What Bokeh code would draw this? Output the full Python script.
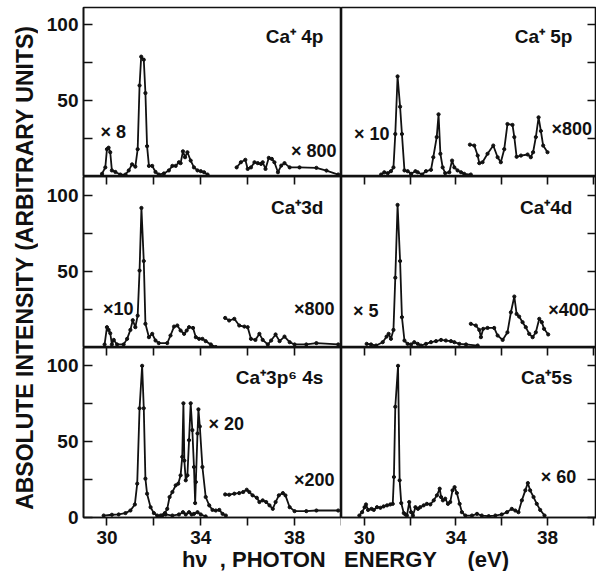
import math
from bokeh.plotting import figure
from bokeh.models import Range1d, FixedTicker, LinearAxis, Label
from bokeh.layouts import row, column
from bokeh.embed import file_html
from bokeh.resources import INLINE

# ---------------- data ----------------
x_ticks = [30, 32, 34, 36, 38, 40]
x_tick_labels = {30: "30", 32: "", 34: "34", 36: "", 38: "38", 40: ""}
y_ticks = [0, 25, 50, 75, 100]
y_tick_labels_top = {0: "", 25: "", 50: "50", 75: "", 100: "100"}
y_tick_labels_bottom = {0: "0", 25: "", 50: "50", 75: "", 100: "100"}

titles = ["Ca\u207a 4p", "Ca\u207a 5p", "Ca\u207a3d", "Ca\u207a4d", "Ca\u207a3p\u2076 4s", "Ca\u207a5s"]

# Ca+ 4p
p4p_a_x = [29.79, 29.93, 30.0, 30.07, 30.14, 30.21, 30.36, 30.57, 30.79, 30.93, 31.07, 31.21, 31.31, 31.39, 31.46,
           31.57, 31.64, 31.71, 31.79, 31.93, 32.07, 32.21, 32.43, 32.64, 32.79, 32.93, 33.07, 33.14, 33.24, 33.33,
           33.43, 33.57, 33.71, 33.86, 34.0, 34.14, 34.29]
p4p_a_y = [1.8, 6, 18, 19, 16, 4, 3, 1.3, 1.3, 4, 8, 6.5, 18, 60, 79, 77, 55, 20, 7, 7, 3, 1.3, 2, 4, 7, 7, 9.4,
           8.8, 16.6, 12.7, 16, 10.5, 6, 4, 3.5, 2.8, 1.3]
p4p_b_x = [35.53, 35.71, 35.9, 36.0, 36.14, 36.29, 36.43, 36.57, 36.64, 36.76, 36.9, 37.03, 37.14, 37.29, 37.43,
           37.57, 37.79, 38.21, 38.93, 39.36, 39.86]
p4p_b_y = [6, 9.4, 11, 5, 6, 9.4, 8.8, 8.3, 9.4, 5, 12.3, 11.6, 9.4, 2.8, 7.2, 8.8, 6, 6, 5.7, 3.9, 1.3]

# Ca+ 5p
p5p_a_x = [30.73, 30.87, 31.02, 31.16, 31.27, 31.35, 31.45, 31.56, 31.64, 31.75, 31.89, 32.04, 32.23, 32.33, 32.52,
           32.69, 32.91, 33.01, 33.16, 33.24, 33.32, 33.42, 33.53, 33.71, 33.83, 33.93, 34.07, 34.22, 34.36, 34.65]
p5p_a_y = [1.3, 2.8, 2.2, 3.5, 6, 28, 66, 46, 28, 4, 3.5, 1.8, 3.5, 2.8, 1.3, 3.5, 4.4, 12.7, 26, 41, 15, 6, 2.2,
           2.8, 10.5, 6, 4, 2.8, 1.8, 1.3]
p5p_b_x = [34.61, 34.8, 34.95, 35.02, 35.16, 35.38, 35.63, 35.82, 35.96, 36.11, 36.25, 36.47, 36.55, 36.65, 36.84,
           37.13, 37.27, 37.37, 37.49, 37.61, 37.71, 37.81, 38.0]
p5p_b_y = [21, 20.4, 13.8, 8.8, 9.4, 15, 20.4, 12.7, 9.4, 18, 34.6, 34, 26, 13, 13.8, 14.5, 12.7, 16, 26, 39, 30,
           20.4, 16]

# Ca+ 3d
p3d_a_x = [29.9, 30.0, 30.07, 30.14, 30.21, 30.29, 30.43, 30.71, 30.86, 31.0, 31.1, 31.21, 31.31, 31.39, 31.47,
           31.57, 31.64, 31.79, 31.93, 32.07, 32.21, 32.57, 32.71, 32.86, 33.0, 33.14, 33.29, 33.4, 33.5, 33.67,
           33.79, 33.93, 34.07, 34.21, 34.43, 34.64]
p3d_a_y = [2, 13.4, 11.6, 9.4, 2, 5, 2, 2, 5.7, 11.6, 18, 13.4, 21, 50.7, 92, 57, 15.6, 6.8, 9, 4.6, 2.9, 2.9, 7.9,
           13.8, 14.5, 11.2, 9, 11.2, 13.4, 12.9, 6.8, 5.7, 5.7, 4.2, 2, 0.3]
p3d_b_x = [35.04, 35.21, 35.43, 35.64, 35.86, 36.0, 36.14, 36.33, 36.5, 36.64, 36.86, 37.0, 37.19, 37.36, 37.57,
           37.79, 38.0, 38.5, 38.93, 39.86]
p3d_b_y = [19.5, 17.8, 18.9, 14.5, 13.8, 13.4, 5.7, 5, 9, 5, 2, 4.6, 8.6, 4.2, 7.2, 3.5, 2, 2, 2.9, 2]

# Ca+ 4d
p4d_a_x = [30.1, 30.29, 30.51, 30.8, 30.97, 31.06, 31.16, 31.27, 31.35, 31.45, 31.56, 31.64, 31.75, 31.89, 32.04,
           32.18, 32.33, 32.47, 32.69, 32.91, 33.13, 33.35, 33.56, 33.78, 33.93, 34.15, 34.44, 34.95]
p4d_a_y = [2.4, 2, 1.3, 3.5, 7.2, 9, 5.7, 11.6, 46, 94, 57, 20, 4.6, 2.4, 2, 3.5, 2.4, 1.3, 2.4, 3.5, 4.2, 5, 4.6,
           4.2, 3.5, 2.4, 2, 1.3]
p4d_b_x = [34.65, 34.87, 35.02, 35.09, 35.19, 35.38, 35.67, 35.82, 36.04, 36.25, 36.4, 36.55, 36.65, 36.76, 36.91,
           37.05, 37.2, 37.35, 37.49, 37.64, 37.75, 37.85, 38.03]
p4d_b_y = [15.6, 14.5, 11.6, 6.8, 12.3, 12.9, 12.9, 7.9, 5, 10, 23.2, 33.6, 22.1, 20.4, 16.7, 13.4, 9, 6.8, 10,
           18.9, 16.7, 12.3, 8.6]

# Ca+ 3p6 4s
p4s_a_x = [29.86, 30.21, 30.5, 30.79, 31.0, 31.19, 31.29, 31.39, 31.5, 31.57, 31.64, 31.71, 31.86, 32.0, 32.14,
           32.36, 32.5, 32.79, 33.07, 33.24, 33.36, 33.5, 33.61, 33.71, 33.86, 34.0, 34.21]
p4s_a_y = [1.3, 1.8, 2, 2.9, 4.6, 8.6, 22.3, 72, 100, 72, 25.6, 15.7, 6.8, 2.9, 1.3, 1.3, 2, 1.3, 2, 3.5, 2, 3.5,
           2, 2.4, 3.5, 2, 0.7]
p4s_b_x = [32.29, 32.47, 32.57, 32.67, 32.79, 32.93, 33.04, 33.14, 33.21, 33.26, 33.3, 33.36, 33.43, 33.5, 33.57,
           33.64, 33.71, 33.76, 33.79, 33.86, 33.9, 33.96, 34.07, 34.21, 34.36, 34.5, 34.64, 34.79, 34.93, 35.07]
p4s_b_y = [1.3, 2.9, 5.7, 13.5, 16.8, 21.2, 22.3, 27.8, 40, 75.3, 37.5, 24.5, 27.8, 51, 75.3, 57.6, 33.3, 9.5,
           23.4, 55.4, 71.3, 60, 33.3, 13.5, 8, 5, 4.6, 5, 2.4, 1.3]
p4s_c_x = [35.04, 35.21, 35.43, 35.64, 35.81, 35.96, 36.07, 36.21, 36.39, 36.5, 36.64, 36.79, 36.93, 37.07, 37.19,
           37.33, 37.5, 37.61, 37.79, 38.0, 38.5, 38.93, 39.86]
p4s_c_y = [15.2, 15, 15.7, 16.1, 16.8, 18.3, 16.8, 14.6, 13, 10.2, 11.3, 10.2, 8, 5.7, 10.2, 14.6, 16.1, 14.6, 6.8,
           4.2, 4.2, 4.6, 4.6]

# Ca+ 5s
p5s_x = [29.78, 29.9, 30.01, 30.07, 30.16, 30.31, 30.41, 30.55, 30.7, 30.84, 30.99, 31.13, 31.24, 31.29, 31.35,
         31.47, 31.54, 31.61, 31.72, 31.79, 31.86, 31.96, 32.04, 32.12, 32.23, 32.34, 32.44, 32.59, 32.73, 32.88,
         33.03, 33.17, 33.29, 33.35, 33.43, 33.53, 33.65, 33.75, 33.85, 33.94, 34.04, 34.16, 34.26, 34.41, 34.7,
         34.92, 35.13, 35.43, 35.72, 36.0, 36.23, 36.44, 36.59, 36.73, 36.88, 37.03, 37.14, 37.24, 37.39, 37.53,
         37.68, 37.87]
p5s_y = [1.3, 3.5, 6.8, 8.6, 5, 5.7, 5, 6.8, 6.4, 7.3, 8, 8.6, 9, 26.7, 73, 100, 24.5, 9.5, 2.9, 2, 1.3, 10.2, 3.5,
         1.3, 6.8, 5.7, 6.8, 8, 9, 8.6, 11.3, 14.6, 19, 13.5, 11.3, 12.4, 9, 10.2, 17.9, 20, 16.1, 9, 3.5, 1.3, 1.3,
         2.4, 1.3, 0.9, 1.3, 2, 3.5, 5.7, 4.6, 3.5, 11.3, 17.9, 22.7, 17.9, 13.5, 9, 5, 1.3]

# scale-factor labels: (text, x, y)
mult_4p = [("\u00d7 8", 29.72, 29.6), ("\u00d7 800", 37.85, 17)]
mult_5p = [("\u00d7 10", 29.55, 28), ("\u00d7800", 38.17, 31)]
mult_3d = [("\u00d710", 29.83, 25.7), ("\u00d7800", 37.97, 25.7)]
mult_4d = [("\u00d7 5", 29.5, 24.3), ("\u00d7400", 38.03, 25)]
mult_4s = [("\u00d7 20", 34.33, 61.6), ("\u00d7200", 37.97, 25)]
mult_5s = [("\u00d7 60", 37.7, 26.8)]

# ---------------- styling / layout ----------------
FONT = "Liberation Sans"
INK = "#111111"
ROW_H = [169, 171, 170]
Y_SCALE = 1.517
COL_W = [258, 255]
X_END = [40.0, 40.14]
TITLE_X = [39.23, 39.09]
LEFT_BORDER = 45
YLAB_W = 38

panels = [
    (0, 0, titles[0], [(p4p_a_x, p4p_a_y), (p4p_b_x, p4p_b_y)], mult_4p),
    (0, 1, titles[1], [(p5p_a_x, p5p_a_y), (p5p_b_x, p5p_b_y)], mult_5p),
    (1, 0, titles[2], [(p3d_a_x, p3d_a_y), (p3d_b_x, p3d_b_y)], mult_3d),
    (1, 1, titles[3], [(p4d_a_x, p4d_a_y), (p4d_b_x, p4d_b_y)], mult_4d),
    (2, 0, titles[4], [(p4s_a_x, p4s_a_y), (p4s_b_x, p4s_b_y), (p4s_c_x, p4s_c_y)], mult_4s),
    (2, 1, titles[5], [(p5s_x, p5s_y)], mult_5s),
]


def style_ticks(ax):
    ax.minor_tick_line_color = None
    ax.major_tick_line_width = 1.6
    ax.major_tick_line_color = INK
    ax.axis_line_color = INK
    ax.axis_line_width = 1.6


def make_panel(r, c, title, series, mults):
    p = figure(frame_width=COL_W[c], frame_height=ROW_H[r],
               x_range=Range1d(29, X_END[c]), y_range=Range1d(0, ROW_H[r] / Y_SCALE),
               output_backend="svg", toolbar_location=None,
               x_axis_location=None, y_axis_location=None,
               min_border=0, min_border_left=(LEFT_BORDER if c == 0 else 0),
               min_border_top=(7 if r == 0 else 0))
    p.outline_line_color = INK
    p.outline_line_width = 1.6
    p.xgrid.visible = False
    p.ygrid.visible = False
    p.background_fill_color = "white"
    p.border_fill_color = "white"

    # y axis, ticks pointing inwards
    ya = LinearAxis(ticker=FixedTicker(ticks=y_ticks))
    ya.major_tick_in = 9
    ya.major_tick_out = 0
    style_ticks(ya)
    if c == 0:
        ya.major_label_overrides = y_tick_labels_bottom if r == 2 else y_tick_labels_top
        ya.major_label_text_font = FONT
        ya.major_label_text_font_style = "bold"
        ya.major_label_text_font_size = "19px"
        ya.major_label_text_color = INK
        ya.major_label_standoff = 5
        p.add_layout(ya, "left")
    else:
        ya.major_label_overrides = {t: "" for t in y_ticks}
        ya.major_label_text_font_size = "1px"
        ya.major_label_standoff = 0
        p.add_layout(ya, "right")

    # inward ticks at the top of the lower panels
    if r > 0:
        ta = LinearAxis(ticker=FixedTicker(ticks=x_ticks))
        ta.major_tick_in = 8
        ta.major_tick_out = 0
        style_ticks(ta)
        ta.major_label_overrides = {t: "" for t in x_ticks}
        ta.major_label_text_font_size = "1px"
        ta.major_label_standoff = 0
        p.add_layout(ta, "above")
    if r == 2:
        ba = LinearAxis(ticker=FixedTicker(ticks=x_ticks))
        ba.major_tick_in = 0
        ba.major_tick_out = 8
        style_ticks(ba)
        ba.major_label_overrides = x_tick_labels
        ba.major_label_text_font = FONT
        ba.major_label_text_font_style = "bold"
        ba.major_label_text_font_size = "19px"
        ba.major_label_text_color = INK
        ba.major_label_standoff = 5
        p.add_layout(ba, "below")

    for xs, ys in series:
        p.line(xs, ys, line_color=INK, line_width=1.8)
        p.scatter(xs, ys, size=3.2, color=INK)

    p.add_layout(Label(x=TITLE_X[c], y=92.5, text=title, text_align="right", text_baseline="alphabetic",
                       text_font=FONT, text_font_style="bold", text_font_size="19px", text_color=INK))
    for txt, lx, ly in mults:
        p.add_layout(Label(x=lx, y=ly, text=txt, text_align="left", text_baseline="middle",
                           text_font=FONT, text_font_style="bold", text_font_size="18px", text_color=INK))
    return p


figs = {}
for r, c, title, series, mults in panels:
    figs[(r, c)] = make_panel(r, c, title, series, mults)

YLAB_H = 7 + sum(ROW_H) + 30

# y-axis label
ylab = figure(frame_width=YLAB_W, frame_height=YLAB_H, x_range=Range1d(0, YLAB_W),
              y_range=Range1d(0, YLAB_H), output_backend="svg", toolbar_location=None,
              x_axis_location=None, y_axis_location=None, min_border=0, outline_line_color=None)
ylab.xgrid.visible = False
ylab.ygrid.visible = False
ylab.add_layout(Label(x=24, y=YLAB_H - 267, text="ABSOLUTE INTENSITY (ARBITRARY UNITS)", angle=math.pi / 2,
                      text_align="center", text_baseline="middle", text_font=FONT, text_font_style="bold",
                      text_font_size="23px", text_color=INK))

# x-axis label
XLAB_W = YLAB_W + LEFT_BORDER + sum(COL_W)
xlab = figure(frame_width=XLAB_W, frame_height=24, x_range=Range1d(0, XLAB_W), y_range=Range1d(0, 24),
              output_backend="svg", toolbar_location=None, x_axis_location=None, y_axis_location=None,
              min_border=0, outline_line_color=None)
xlab.xgrid.visible = False
xlab.ygrid.visible = False
xlab.add_layout(Label(x=345, y=12, text="h\u03bd\u00a0 ,\u00a0PHOTON\u00a0\u00a0 ENERGY\u00a0\u00a0\u00a0\u00a0 (eV)",
                      text_align="center", text_baseline="middle", text_font=FONT, text_font_style="bold",
                      text_font_size="22px", text_color=INK))

left_col = column(figs[(0, 0)], figs[(1, 0)], figs[(2, 0)], spacing=0)
right_col = column(figs[(0, 1)], figs[(1, 1)], figs[(2, 1)], spacing=0)
layout = column(row(ylab, left_col, right_col, spacing=0), xlab, spacing=0)

open("out.html", "w").write(file_html(layout, INLINE))
